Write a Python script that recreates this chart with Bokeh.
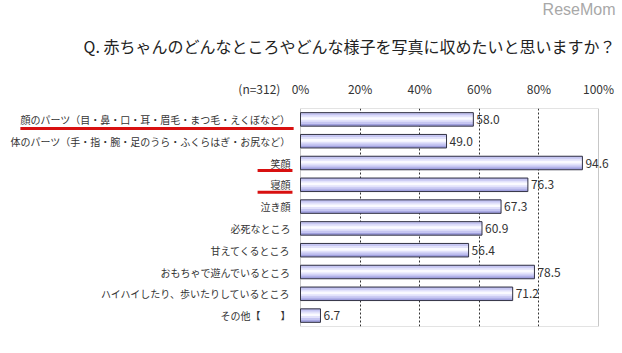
from bokeh.plotting import figure
from bokeh.models import Range1d, FactorRange, ColumnDataSource, BoxAnnotation, Title, FixedTicker
from bokeh.transform import dodge
from bokeh.core.properties import value
from bokeh.embed import file_html
from bokeh.resources import INLINE

categories = [
    "顔のパーツ（目・鼻・口・耳・眉毛・まつ毛・えくぼなど）",
    "体のパーツ（手・指・腕・足のうら・ふくらはぎ・お尻など）",
    "笑顔",
    "寝顔",
    "泣き顔",
    "必死なところ",
    "甘えてくるところ",
    "おもちゃで遊んでいるところ",
    "ハイハイしたり、歩いたりしているところ",
    "その他【　　】",
]
values = [58.0, 49.0, 94.6, 76.3, 67.3, 60.9, 56.4, 78.5, 71.2, 6.7]
tick_values = [0, 20, 40, 60, 80, 100]
tick_labels = ["0%", "20%", "40%", "60%", "80%", "100%"]
title_text = "Q. 赤ちゃんのどんなところやどんな様子を写真に収めたいと思いますか？"
n_text = "(n=312)"
n_pos = -13.8
logo_text = "ReseMom"

ul_main_cat = [categories[0]]
ul_main_x0 = [-94.0]
ul_main_x1 = [-2.3]
ul_small_cats = [categories[2], categories[3]]
ul_small_x0 = [-14.4, -14.4]
ul_small_x1 = [-2.7, -2.7]

FONT = "Noto Sans CJK JP"

src = ColumnDataSource(dict(
    cat=categories,
    val=values,
    zero=[0] * len(values),
    lbl=["%.1f" % v for v in values],
))

p = figure(width=622, height=353,
           x_range=Range1d(-100.67, 108.05),
           y_range=FactorRange(*categories[::-1]),
           output_backend="svg", toolbar_location=None,
           x_axis_location="above", y_axis_location=None,
           min_border_left=0, min_border_right=0,
           min_border_top=108, min_border_bottom=27)
p.outline_line_color = None
p.background_fill_color = "white"
p.border_fill_color = "white"
p.y_range.range_padding = 0
p.y_range.factor_padding = 0

# axis above (with the sample size note as an extra label)
ax = p.xaxis[0]
ax.ticker = FixedTicker(ticks=[n_pos] + tick_values)
overrides = {t: l for t, l in zip(tick_values, tick_labels)}
overrides[n_pos] = n_text
ax.major_label_overrides = overrides
ax.axis_line_color = None
ax.major_tick_line_color = None
ax.minor_tick_line_color = None
ax.major_tick_out = 0
ax.major_tick_in = 0
ax.major_label_standoff = 12
ax.major_label_text_font = FONT
ax.major_label_text_font_size = "12px"
ax.major_label_text_color = "#333333"

p.xgrid.ticker = FixedTicker(ticks=tick_values[1:-1])
p.xgrid.grid_line_color = "#333333"
p.xgrid.grid_line_dash = "2 2"
p.xgrid.grid_line_width = 1
p.ygrid.grid_line_color = None

# bars with pseudo-gradient
p.hbar(y="cat", left="zero", right="val", height=0.62, source=src,
       fill_color="#a0a0de", line_color=None)
p.hbar(y=dodge("cat", 0.04, range=p.y_range), left="zero", right="val", height=0.5, source=src,
       fill_color="#c6c6f2", line_color=None)
p.hbar(y=dodge("cat", 0.04, range=p.y_range), left="zero", right="val", height=0.3, source=src,
       fill_color="#e2e2fb", line_color=None)
p.hbar(y=dodge("cat", 0.04, range=p.y_range), left="zero", right="val", height=0.12, source=src,
       fill_color="#fafaff", line_color=None)
p.hbar(y="cat", left="zero", right="val", height=0.62, source=src,
       fill_color=None, line_color="#333344", line_width=1)

# frame of plot area
p.add_layout(BoxAnnotation(left=0, right=100, fill_alpha=0, line_color="#444444", line_width=1))

# value labels
p.text(x="val", y="cat", text="lbl", source=src, x_offset=3,
       text_baseline="middle", text_align="left",
       text_font=value(FONT), text_font_size="12px", text_color="#333333")

# category labels
p.text(x="zero", y="cat", text="cat", source=src, x_offset=-10,
       text_baseline="middle", text_align="right",
       text_font=value(FONT), text_font_size="10px", text_color="#333333")

# red underlines
p.segment(x0="x0", x1="x1",
          y0=dodge("c", -0.42, range=p.y_range), y1=dodge("c", -0.42, range=p.y_range),
          source=ColumnDataSource(dict(c=ul_main_cat, x0=ul_main_x0, x1=ul_main_x1)),
          line_color="#d81010", line_width=3)
p.segment(x0="x0", x1="x1",
          y0=dodge("c", -0.34, range=p.y_range), y1=dodge("c", -0.34, range=p.y_range),
          source=ColumnDataSource(dict(c=ul_small_cats, x0=ul_small_x0, x1=ul_small_x1)),
          line_color="#d81010", line_width=3)

# title and logo stacked above the axis
p.add_layout(Title(text=title_text, align="right", offset=7, standoff=38,
                   text_font=FONT, text_font_size="16px", text_color="#222222",
                   text_font_style="normal"), "above")
p.add_layout(Title(text=logo_text, align="right", offset=7, standoff=-10,
                   text_font="Liberation Sans", text_font_size="16px", text_color="#a8a8a8",
                   text_font_style="normal"), "above")

open("out.html", "w").write(file_html(p, INLINE))
